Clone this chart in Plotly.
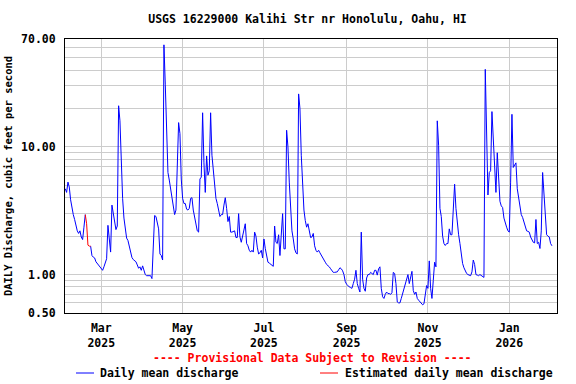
import pandas as pd
import plotly.graph_objects as go

# ---- data: daily mean discharge, cfs, starting 2025-02-02 ----
start_date = "2025-02-02"
discharge = [
    4.7, 4.4, 5.3, 4.85, 3.85, 3.3, 2.95, 2.7, 2.4, 2.2,          # d0-9
    2.1, 2.2, 1.97, 1.88, 2.35, 2.95, 2.5, 1.7, 1.67, 1.67,      # d10-19
    1.41, 1.37, 1.35, 1.26, 1.22, 1.18, 1.13, 1.1, 1.08, 1.15,   # d20-29
    1.22, 1.33, 2.43, 1.8, 1.5, 3.5, 3.0, 2.43, 2.25, 2.4,       # d30-39
    21, 16, 7, 3.95, 2.77, 2.2, 1.93, 1.85, 1.65, 1.47,          # d40-49
    1.36, 1.31, 1.29, 1.26, 1.19, 1.12, 1.15, 1.08, 1.17, 1.05,  # d50-59
    1.0, 0.98, 0.98, 0.97, 0.98, 0.93, 1.9, 2.9, 2.85, 2.6,      # d60-69
    2.28, 1.45, 1.41, 1.3, 63, 31, 15, 6.3, 5.5, 4.7,            # d70-79
    3.95, 3.5, 2.95, 3.2, 6.7, 15.5, 12.7, 5.6, 3.95, 3.6,       # d80-89
    3.6, 3.25, 3.2, 3.3, 3.95, 4.0, 3.2, 2.77, 2.45, 2.2,        # d90-99
    2.15, 5.6, 5.8, 18.5, 7.5, 4.4, 8.5, 6.0, 6.5, 18.5,         # d100-109
    8.6, 6.3, 5.0, 3.95, 3.6, 3.1, 2.85, 2.95, 2.95, 3.5,        # d110-119
    4.0, 3.3, 2.6, 2.85, 2.15, 2.15, 2.18, 2.2, 1.95, 1.95,      # d120-129
    3.0, 1.97, 1.79, 1.97, 2.28, 2.5, 1.75, 1.68, 1.55, 1.5,     # d130-139
    1.55, 1.5, 2.15, 2.0, 1.64, 1.45, 1.48, 1.55, 1.35, 1.9,     # d140-149
    1.6, 1.35, 1.25, 1.23, 1.2, 1.18, 1.16, 2.4, 1.79, 1.75,     # d150-159
    2.05, 1.41, 1.9, 3.0, 1.59, 1.59, 13.5, 10, 5.3, 3.2,        # d160-169
    2.2, 1.9, 1.59, 1.48, 1.45, 26, 20, 8.6, 4.4, 3.2,           # d170-179
    2.65, 2.35, 2.5, 2.15, 1.95, 1.97, 2.1, 1.68, 1.55, 1.5,     # d180-189
    1.55, 1.48, 1.41, 1.38, 1.3, 1.25, 1.2, 1.18, 1.15, 1.11,    # d190-199
    1.07, 1.04, 1.04, 1.04, 1.05, 1.09, 1.13, 1.11, 1.07, 1.0,   # d200-209
    0.88, 0.84, 0.81, 0.8, 0.79, 0.78, 0.85, 0.92, 1.08, 0.85,   # d210-219
    0.78, 0.73, 2.15, 0.92, 0.78, 0.74, 0.94, 1.0, 1.0, 1.04,    # d220-229
    1.02, 1.0, 1.08, 1.08, 0.99, 1.11, 1.15, 0.78, 0.67, 0.65,   # d230-239
    0.7, 0.73, 0.71, 0.71, 0.7, 0.72, 1.04, 1.02, 0.85, 0.61,    # d240-249
    0.6, 0.6, 0.65, 0.71, 0.76, 0.85, 0.91, 1.0, 0.85, 0.96,     # d250-259
    1.06, 0.75, 0.7, 0.73, 0.65, 0.63, 0.61, 0.59, 0.58, 0.59,   # d260-269
    0.7, 0.82, 0.78, 1.28, 0.78, 0.65, 0.9, 1.25, 1.15, 16,      # d270-279
    10.3, 3.3, 2.85, 2.0, 1.75, 1.69, 1.75, 1.75, 2.28, 2.05,    # d280-289
    2.05, 3.2, 5.1, 3.3, 2.5, 2.05, 1.75, 1.41, 1.22, 1.13,      # d290-299
    1.06, 1.02, 1.0, 0.99, 0.98, 1.05, 1.3, 1.2, 1.0, 0.99,      # d300-309
    0.98, 1.0, 0.98, 0.97, 0.95, 40.5, 9.5, 4.2, 6.3, 6.5,       # d310-319
    18.9, 11.3, 6.0, 4.4, 9.0, 5.5, 3.75, 3.45, 3.35, 2.77,      # d320-329
    2.5, 2.35, 2.2, 2.15, 5.3, 18, 6.9, 7.2, 7.5, 4.7,           # d330-339
    4.0, 3.4, 2.95, 2.8, 2.55, 2.35, 2.2, 2.18, 2.15, 1.97,      # d340-349
    1.88, 1.79, 1.77, 2.7, 1.75, 1.79, 1.6, 2.2, 6.3, 4.4,       # d350-359
    2.6, 2.05, 2.0, 1.97, 1.75, 1.68,                            # d360-365
]
estimated_dates = ["2025-02-17", "2025-02-18", "2025-02-19", "2025-02-20", "2025-02-21"]

tick_dates = ["2025-03-01", "2025-05-01", "2025-07-01", "2025-09-01", "2025-11-01", "2026-01-01"]
tick_labels = ["Mar<br>2025", "May<br>2025", "Jul<br>2025", "Sep<br>2025", "Nov<br>2025", "Jan<br>2026"]

y_grid_vals = [0.5, 0.6, 0.7, 0.8, 0.9, 1, 2, 3, 4, 5, 6, 7, 8, 9, 10, 20, 30, 40, 50, 60, 70]
y_labels = {0.5: "0.50", 1: "1.00", 10: "10.00", 70: "70.00"}

title_text = "USGS 16229000 Kalihi Str nr Honolulu, Oahu, HI"
y_title = "DAILY Discharge, cubic feet per second"
note_text = "---- Provisional Data Subject to Revision ----"
legend_names = ["Daily mean discharge", "Estimated daily mean discharge"]

# ---- build series ----
dates = pd.date_range(start_date, periods=len(discharge), freq="D")
df = pd.DataFrame({"date": dates, "q": discharge})
est_mask = df["date"].isin(pd.to_datetime(estimated_dates))
inner_est = est_mask & est_mask.shift(1, fill_value=False) & est_mask.shift(-1, fill_value=False)
blue_q = df["q"].where(~inner_est)
red_q = df["q"].where(est_mask)

FONT = "DejaVu Sans Mono"

fig = go.Figure()
fig.add_trace(go.Scatter(x=df["date"], y=blue_q, mode="lines",
                         line=dict(color="#0000ff", width=1), connectgaps=False,
                         name=legend_names[0], showlegend=False))
fig.add_trace(go.Scatter(x=df["date"], y=red_q, mode="lines",
                         line=dict(color="#ff0000", width=1), connectgaps=False,
                         name=legend_names[1], showlegend=False))

L, R, T, B = 65, 19, 39, 71
W, H = 576, 384
pw, ph = W - L - R, H - T - B

def px_x(x):
    return (x - L) / pw

def px_y(y):
    return (H - B - y) / ph

fig.update_layout(
    width=W, height=H,
    margin=dict(l=L, r=R, t=T, b=B, pad=0, autoexpand=False),
    paper_bgcolor="white", plot_bgcolor="white",
    font=dict(family=FONT, size=11.5, color="black"),
    title=dict(text="<b>" + title_text + "</b>", x=307.5 / W, xref="container",
               xanchor="center", y=1 - 19 / H, yanchor="middle",
               automargin=False,
               font=dict(family=FONT, size=11.5, color="black")),
    xaxis=dict(type="date", automargin=False,
               range=["2025-02-01 19:00", "2026-02-05 19:00"],
               tickvals=tick_dates, ticktext=["<b>" + t.replace("<br>", "</b><br><b>") + "</b>" for t in tick_labels],
               showgrid=True, gridcolor="#cccccc", gridwidth=1,
               showline=True, mirror=True, linecolor="black", linewidth=1,
               ticks="outside", ticklen=4, tickcolor="rgba(0,0,0,0)",
               tickfont=dict(family=FONT, size=11.5), zeroline=False),
    yaxis=dict(type="log", automargin=False,
               range=[-0.30103, 1.845098],
               tickvals=y_grid_vals,
               ticktext=["<b>" + y_labels[v] + "</b>" if v in y_labels else "" for v in y_grid_vals],
               showgrid=True, gridcolor="#cccccc", gridwidth=1,
               showline=True, mirror=True, linecolor="black", linewidth=1,
               ticks="outside", ticklen=6, tickcolor="rgba(0,0,0,0)",
               tickfont=dict(family=FONT, size=11.5), zeroline=False,
               title=dict(text="<b>" + y_title + "</b>", standoff=6,
                          font=dict(family=FONT, size=10.5))),
    showlegend=False,
)

fig.add_annotation(text="<b>" + note_text + "</b>", xref="paper", yref="paper",
                   x=px_x(312), y=px_y(358), xanchor="center", yanchor="middle",
                   showarrow=False, font=dict(family=FONT, size=11.5, color="#ff0000"))
fig.add_annotation(text="<b>" + legend_names[0] + "</b>", xref="paper", yref="paper",
                   x=px_x(98), y=px_y(373), xanchor="left", yanchor="middle",
                   showarrow=False, font=dict(family=FONT, size=11.5, color="black"))
fig.add_annotation(text="<b>" + legend_names[1] + "</b>", xref="paper", yref="paper",
                   x=px_x(343), y=px_y(373), xanchor="left", yanchor="middle",
                   showarrow=False, font=dict(family=FONT, size=11.5, color="black"))
fig.add_shape(type="line", xref="paper", yref="paper",
              x0=px_x(76), x1=px_x(94), y0=px_y(373), y1=px_y(373),
              line=dict(color="#0000ff", width=1))
fig.add_shape(type="line", xref="paper", yref="paper",
              x0=px_x(320), x1=px_x(338), y0=px_y(373), y1=px_y(373),
              line=dict(color="#ff0000", width=1))

fig.write_html("out.html", config={"displayModeBar": False},
               post_script="document.body.style.margin='0px';")
